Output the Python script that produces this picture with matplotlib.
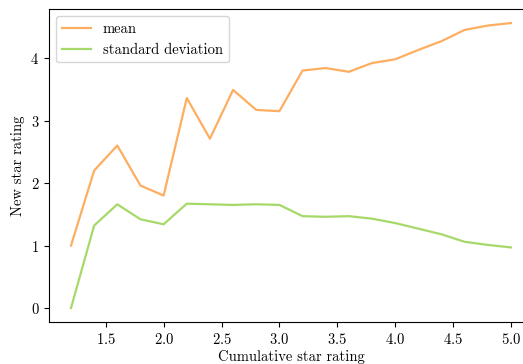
import matplotlib
matplotlib.use("Agg")
import matplotlib.pyplot as plt

plt.rcParams['font.family'] = 'serif'
plt.rcParams['font.serif'] = ['cmr10', 'DejaVu Serif']
plt.rcParams['axes.formatter.use_mathtext'] = True
plt.rcParams['mathtext.fontset'] = 'cm'

cumulative = [1.2, 1.4, 1.6, 1.8, 2.0, 2.2, 2.4, 2.6, 2.8, 3.0,
              3.2, 3.4, 3.6, 3.8, 4.0, 4.2, 4.4, 4.6, 4.8, 5.0]
mean = [1.0, 2.2, 2.6, 1.96, 1.8, 3.36, 2.71, 3.49, 3.17, 3.15,
        3.80, 3.84, 3.78, 3.92, 3.98, 4.13, 4.27, 4.45, 4.52, 4.56]
std = [0.0, 1.32, 1.66, 1.42, 1.34, 1.67, 1.66, 1.65, 1.66, 1.65,
       1.47, 1.46, 1.47, 1.43, 1.36, 1.27, 1.18, 1.06, 1.01, 0.97]

fs = 10.5
fig = plt.figure(figsize=(5.23, 3.64), dpi=100)
ax = fig.add_axes([0.0937, 0.1146, 1.019 - 0.0937, 0.9758 - 0.1146])
ax.plot(cumulative, mean, color='#fdae61', lw=1.6, label='mean')
ax.plot(cumulative, std, color='#a6d96a', lw=1.6, label='standard deviation')
ax.set_xlabel('Cumulative star rating', fontsize=fs, labelpad=2)
ax.set_ylabel('New star rating', fontsize=fs)
ax.tick_params(labelsize=fs)
ax.set_xticks([1.5, 2.0, 2.5, 3.0, 3.5, 4.0, 4.5, 5.0])
ax.set_yticks([0, 1, 2, 3, 4])
ax.spines['right'].set_visible(False)
ax.legend(loc='upper left', fontsize=fs)
fig.savefig('out.png', dpi=100)
